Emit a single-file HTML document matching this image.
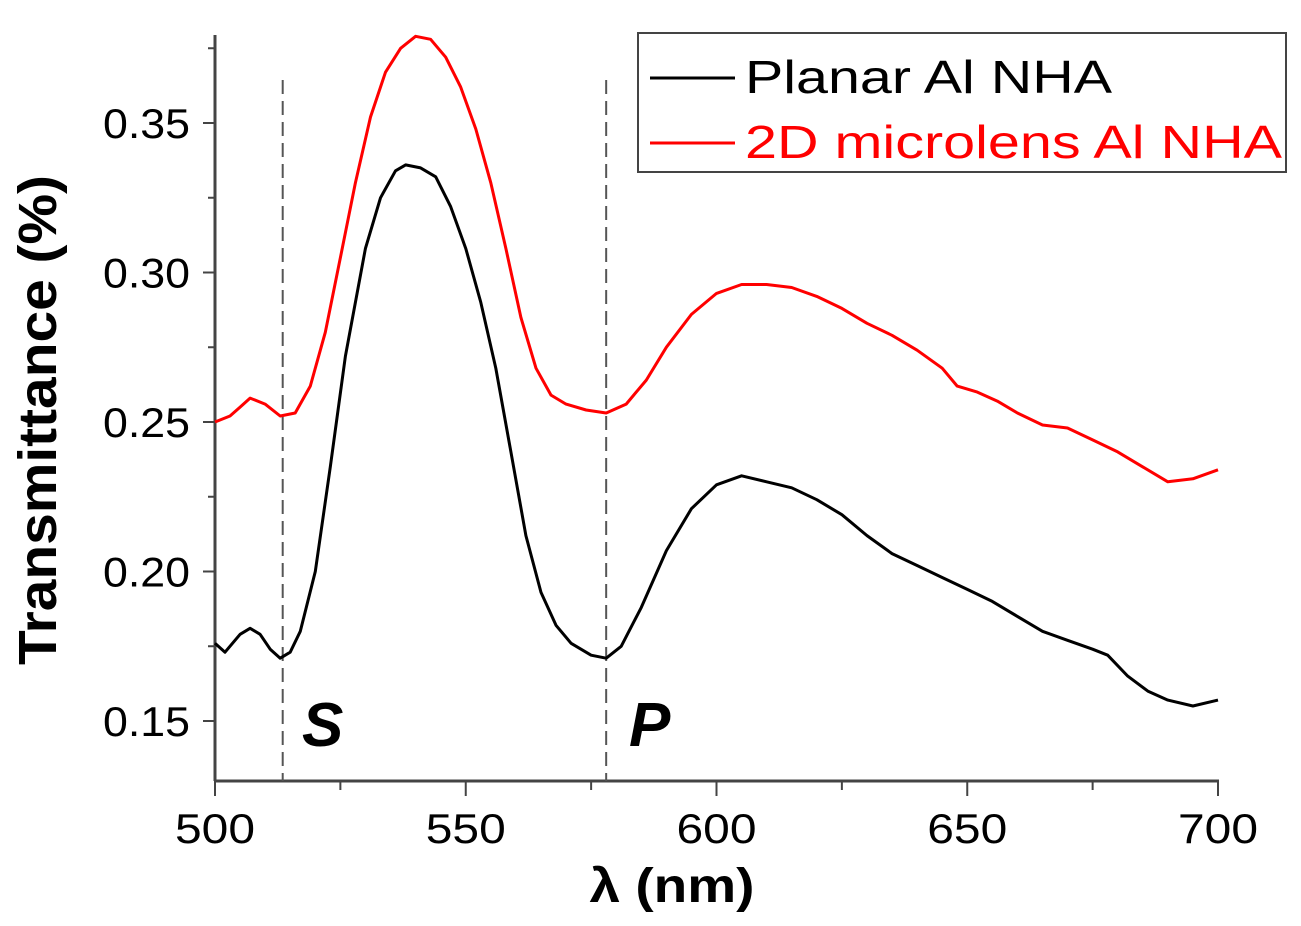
<!DOCTYPE html>
<html><head><meta charset="utf-8"><style>
html,body{margin:0;padding:0;background:#fff;}
svg{display:block;font-family:"Liberation Sans",Arial,sans-serif;}
</style></head><body>
<svg id="chart" width="1301" height="926" viewBox="0 0 1301 926">
<g id="axes"></g>
<g id="plot"></g>
<text x="672" y="902" font-size="48" font-weight="bold" text-anchor="middle" textLength="165" lengthAdjust="spacingAndGlyphs">λ (nm)</text>
<text transform="translate(56,420) rotate(-90)" font-size="54" font-weight="bold" text-anchor="middle" textLength="490" lengthAdjust="spacingAndGlyphs">Transmittance (%)</text>
<text x="302" y="746" font-size="62" font-weight="bold" font-style="italic">S</text>
<text x="629" y="746" font-size="62" font-weight="bold" font-style="italic">P</text>
<g>
<rect x="638" y="33" width="648" height="139" fill="#fff" stroke="#444" stroke-width="2"/>
<line x1="650" y1="78" x2="735" y2="78" stroke="#000" stroke-width="3"/>
<text x="745" y="93" font-size="46" fill="#000" textLength="367" lengthAdjust="spacingAndGlyphs">Planar Al NHA</text>
<line x1="650" y1="143" x2="735" y2="143" stroke="#f00" stroke-width="3"/>
<text x="745" y="158" font-size="46" fill="#f00" textLength="537" lengthAdjust="spacingAndGlyphs">2D microlens Al NHA</text>
</g>
</svg>
<script>
const planarX=[500,502,505,507,509,511,513,515,517,520,523,526,530,533,536,538,541,544,547,550,553,556,559,562,565,568,571,575,578,581,585,590,595,600,605,610,615,620,625,630,635,640,645,650,655,660,665,670,675,678,682,686,690,695,700];
const planarY=[0.176,0.173,0.179,0.181,0.179,0.174,0.171,0.173,0.180,0.200,0.235,0.272,0.308,0.325,0.334,0.336,0.335,0.332,0.322,0.308,0.290,0.268,0.240,0.212,0.193,0.182,0.176,0.172,0.171,0.175,0.188,0.207,0.221,0.229,0.232,0.230,0.228,0.224,0.219,0.212,0.206,0.202,0.198,0.194,0.190,0.185,0.180,0.177,0.174,0.172,0.165,0.160,0.157,0.155,0.157];
const microX=[500,503,505,507,510,513,516,519,522,525,528,531,534,537,540,543,546,549,552,555,558,561,564,567,570,574,578,582,586,590,595,600,605,610,615,620,625,630,635,640,645,648,652,656,660,665,670,675,680,685,690,695,700];
const microY=[0.250,0.252,0.255,0.258,0.256,0.252,0.253,0.262,0.280,0.305,0.330,0.352,0.367,0.375,0.379,0.378,0.372,0.362,0.348,0.330,0.308,0.285,0.268,0.259,0.256,0.254,0.253,0.256,0.264,0.275,0.286,0.293,0.296,0.296,0.295,0.292,0.288,0.283,0.279,0.274,0.268,0.262,0.260,0.257,0.253,0.249,0.248,0.244,0.240,0.235,0.230,0.231,0.234];
const xTicks=[500,550,600,650,700];
const yTicks=[0.15,0.20,0.25,0.30,0.35];
const markers=[513.5,578];
const NS="http://www.w3.org/2000/svg";
const sx=v=>215+(v-500)*(1218-215)/200;
const sy=v=>721-(v-0.15)*(721-123)/0.2;
const axes=document.getElementById('axes'),plot=document.getElementById('plot');
function mk(tag,attrs,parent){const e=document.createElementNS(NS,tag);for(const k in attrs)e.setAttribute(k,attrs[k]);parent.appendChild(e);return e;}
let a=mk('line',{x1:215,y1:35,x2:215,y2:781,stroke:'#444','stroke-width':3},axes);


a=mk('line',{x1:214,y1:781,x2:1219,y2:781,stroke:'#444','stroke-width':3},axes);


for(let v=500;v<=700;v+=25){const maj=(v%50===0);
 const t=mk('line',{x1:sx(v),x2:sx(v),y1:781,y2:781+(maj?15:9),stroke:'#444','stroke-width':2},axes);
 
 }
xTicks.forEach(v=>{const t=mk('text',{x:sx(v),y:843,'font-size':42,'text-anchor':'middle',textLength:80,lengthAdjust:'spacingAndGlyphs'},axes);t.textContent=v;
 
 });
for(let i=0;i<=9;i++){const v=0.15+i*0.025;if(sy(v)<38)continue;const maj=i%2===0;
 const t=mk('line',{x1:215-(maj?12:7),x2:215,y1:sy(v),y2:sy(v),stroke:'#444','stroke-width':2},axes);
 
 }
yTicks.forEach(v=>{const t=mk('text',{x:103,y:sy(v)+15,'font-size':42,textLength:87,lengthAdjust:'spacingAndGlyphs'},axes);t.textContent=v.toFixed(2);
 
 });
markers.forEach(m=>{const l=mk('line',{x1:sx(m),x2:sx(m),y1:80,y2:781,stroke:'#555','stroke-width':2,'stroke-dasharray':'14,7'},plot);
 
 });
function series(xs,ys,color,name){const d=xs.map((x,i)=>(i?'L':'M')+sx(x).toFixed(1)+','+sy(ys[i]).toFixed(1)).join('');
 const p=mk('path',{d:d,fill:'none',stroke:color,'stroke-width':3,'stroke-linejoin':'round'},plot);
 
 }
series(microX,microY,'#f00','microlens-series');
series(planarX,planarY,'#000','planar-series');
</script>
</body></html>
